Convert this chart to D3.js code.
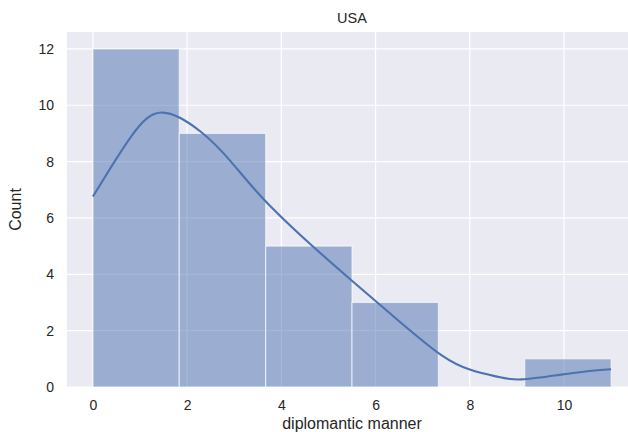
<!DOCTYPE html>
<html>
<head>
<meta charset="utf-8">
<script src="https://cdn.jsdelivr.net/npm/d3@7"></script>
<style>
  body { margin: 0; background: #fff; }
  svg { display: block; font-family: "Liberation Sans", Arial, sans-serif; }
</style>
</head>
<body>
<div id="chart"></div>
<script>
// histogram bins (edges) and counts
const binEdges = [0, 1.833, 3.667, 5.5, 7.333, 9.167, 11];
const counts = [12, 9, 5, 3, 0, 1];

// kde curve (x, count)
const kdeX = [0, 0.81, 1.48, 2.29, 2.93, 3.64, 4.63, 5.48, 6.47, 7.39, 8.03, 8.6, 9.1, 9.9, 10.5, 11];
const kdeY = [6.76, 8.89, 9.74, 9.06, 8.0, 6.64, 5.05, 3.8, 2.38, 1.14, 0.6, 0.36, 0.27, 0.43, 0.56, 0.63];

const xTicks = [0, 2, 4, 6, 8, 10];
const yTicks = [0, 2, 4, 6, 8, 10, 12];

const width = 628, height = 432;
const margin = { left: 67, top: 32, right: -9, bottom: 45 };

const svg = d3.select("#chart").append("svg")
  .attr("width", width).attr("height", height);

const x = d3.scaleLinear().domain([-0.55, 11.55]).range([margin.left, width - margin.right]);
const y = d3.scaleLinear().domain([0, 12.6]).range([height - margin.bottom, margin.top]);

// plot background
svg.append("rect")
  .attr("x", margin.left).attr("y", margin.top)
  .attr("width", width - margin.right - margin.left)
  .attr("height", height - margin.bottom - margin.top)
  .attr("fill", "#eaeaf2");

// grid
svg.append("g")
  .selectAll("line")
  .data(xTicks)
  .join("line")
  .attr("x1", d => x(d)).attr("x2", d => x(d))
  .attr("y1", margin.top).attr("y2", height - margin.bottom)
  .attr("stroke", "#fff").attr("stroke-width", 1.2);

svg.append("g")
  .selectAll("line")
  .data(yTicks)
  .join("line")
  .attr("x1", margin.left).attr("x2", width)
  .attr("y1", d => y(d)).attr("y2", d => y(d))
  .attr("stroke", "#fff").attr("stroke-width", 1.2);

// bars
const bins = counts.map((c, i) => ({ x0: binEdges[i], x1: binEdges[i + 1], c }));
svg.append("g")
  .selectAll("rect")
  .data(bins.filter(d => d.c > 0))
  .join("rect")
  .attr("x", d => x(d.x0))
  .attr("width", d => x(d.x1) - x(d.x0))
  .attr("y", d => y(d.c))
  .attr("height", d => y(0) - y(d.c))
  .attr("fill", "#4c72b0")
  .attr("fill-opacity", 0.5)
  .attr("stroke", "#fff")
  .attr("stroke-opacity", 0.6)
  .attr("stroke-width", 1.2);

// kde line
const kde = kdeX.map((v, i) => [v, kdeY[i]]);
svg.append("path")
  .datum(kde)
  .attr("d", d3.line().x(d => x(d[0])).y(d => y(d[1])).curve(d3.curveNatural))
  .attr("fill", "none")
  .attr("stroke", "#4c72b0")
  .attr("stroke-width", 2.1);

// axes (tick labels only, seaborn darkgrid style)
const xAxis = svg.append("g")
  .attr("transform", `translate(0,${height - margin.bottom})`)
  .call(d3.axisBottom(x).tickValues(xTicks).tickSize(0).tickPadding(13));
xAxis.select(".domain").remove();
xAxis.selectAll("text").attr("font-size", 14).attr("fill", "#262626")
  .attr("font-family", "Liberation Sans, Arial, sans-serif");

const yAxis = svg.append("g")
  .attr("transform", `translate(${margin.left},0)`)
  .call(d3.axisLeft(y).tickValues(yTicks).tickSize(0).tickPadding(13));
yAxis.select(".domain").remove();
yAxis.selectAll("text").attr("font-size", 14).attr("fill", "#262626")
  .attr("font-family", "Liberation Sans, Arial, sans-serif");

// labels
svg.append("text")
  .attr("x", x(5.5)).attr("y", 429)
  .attr("text-anchor", "middle")
  .attr("font-size", 16).attr("fill", "#262626")
  .text("diplomantic manner");

svg.append("text")
  .attr("transform", `translate(21,${y(6.3)}) rotate(-90)`)
  .attr("text-anchor", "middle")
  .attr("font-size", 16).attr("fill", "#262626")
  .text("Count");

svg.append("text")
  .attr("x", x(5.5)).attr("y", 23)
  .attr("text-anchor", "middle")
  .attr("font-size", 14.5).attr("fill", "#262626")
  .text("USA");
</script>
</body>
</html>
